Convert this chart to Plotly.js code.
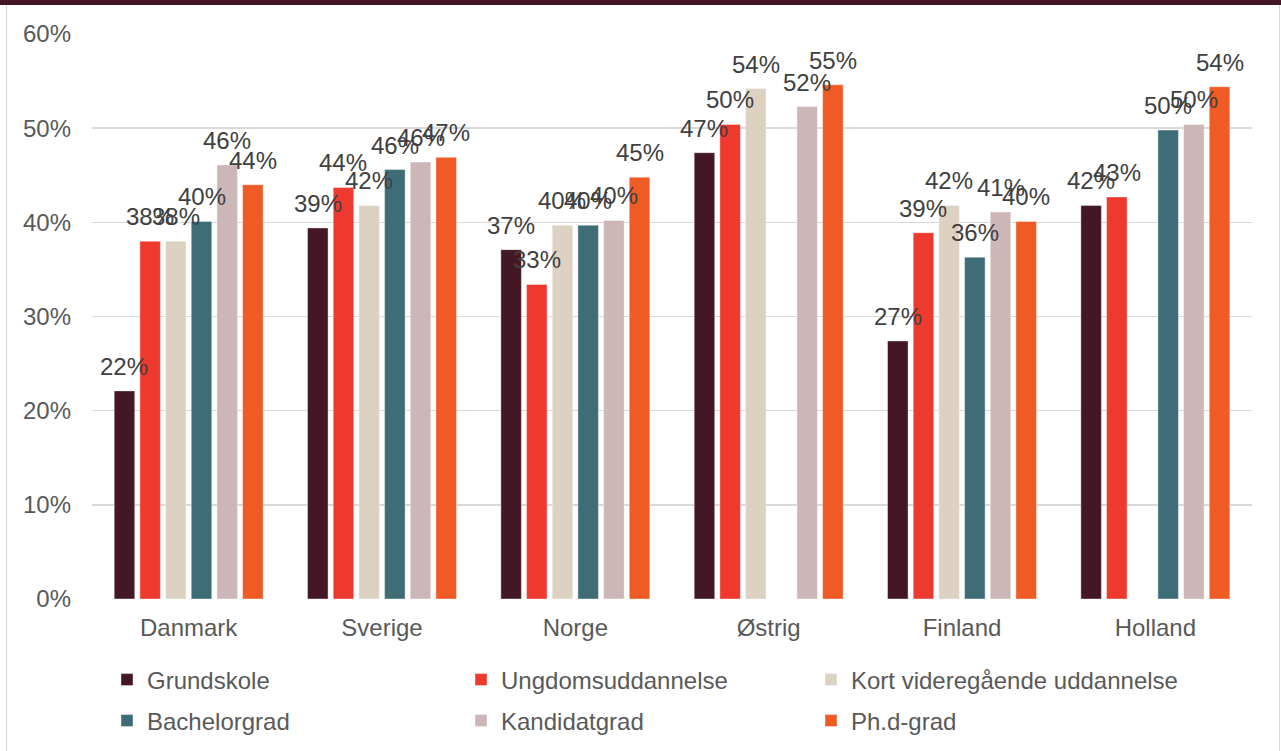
<!DOCTYPE html>
<html>
<head>
<meta charset="utf-8">
<script src="https://cdn.plot.ly/plotly-3.0.1.min.js"></script>
<style>
  html, body { margin: 0; padding: 0; background: #ffffff; }
  #wrap { position: relative; width: 1281px; height: 751px; overflow: hidden; }
  #chart { position: absolute; left: 0; top: 0; width: 1281px; height: 751px; }
  #topbar { position: absolute; left: 0; top: 0; width: 1281px; height: 5px; background: #431824; }
  #frame { position: absolute; left: 6px; top: 5px; width: 1272px; height: 746px;
           border-left: 1.5px solid #d9d9d9; border-right: 1.5px solid #d9d9d9; pointer-events: none; }
</style>
</head>
<body>
<div id="wrap">
  <div id="chart"></div>
  <div id="frame"></div>
  <div id="topbar"></div>
</div>
<script>
// ---- data ----
const countries = ["Danmark", "Sverige", "Norge", "Østrig", "Finland", "Holland"];
const seriesNames = ["Grundskole", "Ungdomsuddannelse", "Kort videregående uddannelse", "Bachelorgrad", "Kandidatgrad", "Ph.d-grad"];
const grundskole        = [0.221, 0.394, 0.371, 0.474, 0.274, 0.418];
const ungdomsuddannelse = [0.380, 0.437, 0.334, 0.504, 0.389, 0.427];
const kortVideregaaende = [0.380, 0.418, 0.397, 0.542, 0.418, null];
const bachelorgrad      = [0.401, 0.456, 0.397, null, 0.363, 0.498];
const kandidatgrad      = [0.461, 0.464, 0.402, 0.523, 0.411, 0.504];
const phdGrad           = [0.440, 0.469, 0.448, 0.546, 0.401, 0.544];
const yTickVals  = [0, 0.1, 0.2, 0.3, 0.4, 0.5, 0.6];
const yTickTexts = ["0%", "10%", "20%", "30%", "40%", "50%", "60%"];
// ---- style ----
const colors = ["#431824", "#ee3a2e", "#ddd1c2", "#3e6d78", "#cdb6b8", "#f05a24"];
const allSeries = [grundskole, ungdomsuddannelse, kortVideregaaende, bachelorgrad, kandidatgrad, phdGrad];
const FONT = "Liberation Sans, Arial, sans-serif";
const BARGAP = 0.203, BARGROUPGAP = 0.2;

// one legend box per entry: 3 columns x 2 rows
const legendCols = [107, 461, 811];   // px, left edge of each legend column
const legendRows = [680, 721];        // px, vertical centre of each legend row
const legendIds = ["legend", "legend2", "legend3", "legend4", "legend5", "legend6"];

const traces = allSeries.map((vals, k) => ({
  type: "bar",
  name: seriesNames[k],
  x: countries,
  y: vals,
  marker: { color: colors[k], line: { color: "rgba(255,255,255,0.5)", width: 0.8 } },
  legend: legendIds[k],
  hoverinfo: "skip"
}));

// data labels as annotations, placed at each bar's slot within its group
const nS = allSeries.length;
const slot = (1 - BARGAP) / nS;
const annotations = [];
allSeries.forEach((vals, k) => {
  vals.forEach((v, i) => {
    if (v === null) return;
    annotations.push({
      x: i + (k - (nS - 1) / 2) * slot,
      y: v,
      xref: "x", yref: "y",
      text: Math.round(v * 100) + "%",
      showarrow: false,
      yanchor: "bottom",
      yshift: 9,
      font: { family: FONT, size: 24, color: "#404040" }
    });
  });
});

const layout = {
  width: 1281, height: 751,
  margin: { l: 92, r: 29, t: 34, b: 151.5, pad: 0 },
  paper_bgcolor: "#ffffff",
  plot_bgcolor: "#ffffff",
  barmode: "group",
  bargap: BARGAP,
  bargroupgap: BARGROUPGAP,
  font: { family: FONT, size: 24, color: "#595959" },
  xaxis: {
    type: "category",
    tickfont: { family: FONT, size: 24, color: "#595959" },
    showgrid: false, zeroline: false, showline: false,
    ticks: "", ticklabelstandoff: 12, fixedrange: true
  },
  yaxis: {
    range: [0, 0.6],
    tickvals: yTickVals, ticktext: yTickTexts,
    tickfont: { family: FONT, size: 24, color: "#595959" },
    showgrid: true, gridcolor: "#d9d9d9", gridwidth: 1.4,
    zeroline: false, showline: false, ticks: "", ticklabelstandoff: 20, fixedrange: true
  },
  showlegend: true,
  annotations: annotations
};

legendIds.forEach((id, k) => {
  layout[id] = {
    orientation: "h",
    xref: "container", yref: "container",
    xanchor: "left", yanchor: "middle",
    x: legendCols[k % 3] / 1281,
    y: 1 - legendRows[Math.floor(k / 3)] / 751,
    font: { family: FONT, size: 24, color: "#595959" },
    bgcolor: "rgba(0,0,0,0)"
  };
});

Plotly.newPlot("chart", traces, layout, { displayModeBar: false, staticPlot: true });
</script>
</body>
</html>
